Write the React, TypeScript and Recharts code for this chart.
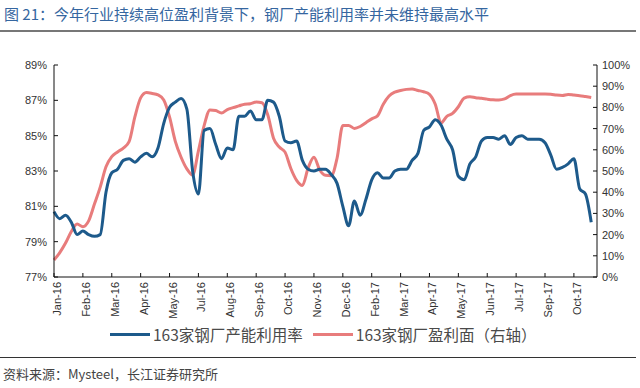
import { Line, LineChart, XAxis, YAxis } from 'recharts'

const BLUE = '#1d5a8b'
const RED = '#e87c7c'
const AXIS = '#111'
const LABEL = '#333'
const CJK = '"Noto Sans CJK SC", "Noto Sans", sans-serif'
const LATIN = '"Liberation Sans", Arial, sans-serif'

const TITLE = '图 21：今年行业持续高位盈利背景下，钢厂产能利用率并未维持最高水平'
const SOURCE = '资料来源：Mysteel，长江证券研究所'
const SERIES_NAMES = ['163家钢厂产能利用率', '163家钢厂盈利面（右轴）']

// 周度数据，每 5 周一个刻度标签
const TICK_LABELS = [
  'Jan-16', 'Feb-16', 'Mar-16', 'Apr-16', 'May-16', 'Jul-16', 'Aug-16', 'Sep-16', 'Oct-16', 'Nov-16',
  'Dec-16', 'Feb-17', 'Mar-17', 'Apr-17', 'May-17', 'Jun-17', 'Jul-17', 'Sep-17', 'Oct-17',
]

// 产能利用率 (%)，左轴
const UTIL = [
  80.7, 80.3, 80.5, 80.1, 79.4, 79.6, 79.4, 79.3, 79.4, 81.8,
  82.9, 83.1, 83.6, 83.7, 83.5, 83.8, 84.0, 83.8, 84.3, 85.7,
  86.6, 86.9, 87.1, 86.5, 83.0, 81.7, 85.3, 85.4, 84.5, 83.7,
  84.3, 84.2, 86.1, 86.1, 86.4, 85.9, 85.9, 87.0, 86.9, 86.1,
  84.7, 84.6, 84.7, 83.6, 83.1, 83.0, 83.1, 83.1, 82.8, 82.3,
  81.0, 79.9, 81.3, 80.5, 81.4, 82.5, 82.9, 82.6, 82.6, 83.0,
  83.1, 83.1, 83.6, 84.0, 85.3, 85.5, 85.9, 85.6, 84.8, 84.2,
  82.7, 82.5, 83.4, 83.8, 84.7, 84.9, 84.9, 84.8, 85.0, 84.5,
  84.9, 85.0, 84.8, 84.8, 84.8, 84.6, 83.9, 83.1, 83.2, 83.4,
  83.7, 82.0, 81.7, 80.1,
]

// 盈利面 (%)，右轴
const PROFIT = [
  8, 11.5, 16, 21.5, 25, 23.7, 26.5, 34.4, 42.4, 52,
  56.8, 59, 60.8, 63.8, 75.5, 84.5, 87, 86.6, 85.9, 83.5,
  75.5, 64, 56.5, 51, 48.1, 59.5, 71.5, 78.8, 78.5, 77.4,
  79, 79.9, 80.7, 81.5, 81.7, 82.5, 82.2, 76.5, 65.5, 61.3,
  58.9, 51.2, 45.6, 43.2, 51.5, 56.5, 50.5, 48, 47.8, 56,
  71.5, 71.5, 70.1, 71, 72.8, 74.6, 76, 81.5, 85.4, 87.2,
  88, 88.5, 88.7, 88, 87.4, 86.2, 81.5, 72.7, 75.8, 77.2,
  80.3, 84.4, 85, 84.6, 84.3, 83.9, 83.6, 83.5, 84, 85.6,
  86.3, 86.3, 86.3, 86.3, 86.3, 86.3, 86.2, 85.8, 85.6, 86.1,
  85.8, 85.5, 85.1, 84.7,
]

const LEFT_TICKS = [77, 79, 81, 83, 85, 87, 89]
const RIGHT_TICKS = [0, 10, 20, 30, 40, 50, 60, 70, 80, 90, 100]

const data = UTIL.map((u, i) => ({ idx: i, util: u, profit: PROFIT[i] }))
const X_TICKS = TICK_LABELS.map((_, i) => i * 5)

function XTick({ x, y, payload }: any) {
  const label = TICK_LABELS[Math.round(payload.value / 5)]
  const tx = x + 3
  const ty = y + 5
  return (
    <g>
      <line x1={x} x2={x} y1={y} y2={y - 4} stroke={AXIS} />
      <text
        x={tx}
        y={ty}
        transform={`rotate(-90 ${tx} ${ty})`}
        textAnchor="end"
        dominantBaseline="central"
        fontSize={11}
        fontFamily={LATIN}
        fill={LABEL}
      >
        {label}
      </text>
    </g>
  )
}

function LeftTick({ x, y, payload }: any) {
  return (
    <g>
      <line x1={x} x2={x + 4} y1={y} y2={y} stroke={AXIS} />
      <text x={x - 7} y={y} textAnchor="end" dominantBaseline="central" fontSize={11} fontFamily={LATIN} fill={LABEL}>
        {payload.value}%
      </text>
    </g>
  )
}

function RightTick({ x, y, payload }: any) {
  return (
    <g>
      <line x1={x} x2={x - 4} y1={y} y2={y} stroke={AXIS} />
      <text x={x + 5} y={y} textAnchor="start" dominantBaseline="central" fontSize={11} fontFamily={LATIN} fill={LABEL}>
        {payload.value}%
      </text>
    </g>
  )
}

export default function App() {
  return (
    <div
      style={{
        position: 'absolute',
        left: 0,
        top: 0,
        width: 640,
        height: 388,
        background: '#fff',
        overflow: 'hidden',
        fontFamily: CJK,
      }}
    >
      <div
        style={{
          position: 'absolute',
          left: 4,
          top: 4,
          fontSize: 15,
          lineHeight: '20px',
          color: '#3566a0',
          whiteSpace: 'nowrap',
        }}
      >
        {TITLE}
      </div>
      <div style={{ position: 'absolute', left: 0, top: 30, width: 636, height: 2, background: '#777' }} />

      <div style={{ position: 'absolute', left: 0, top: 0 }}>
        <LineChart width={640} height={388} data={data} margin={{ top: 65, right: 3, bottom: 66, left: 4 }}>
          <XAxis
            dataKey="idx"
            type="number"
            domain={[0, 94]}
            ticks={X_TICKS}
            interval={0}
            height={45}
            tickSize={0}
            tickMargin={0}
            tickLine={false}
            axisLine={{ stroke: AXIS }}
            tick={<XTick />}
          />
          <YAxis
            yAxisId="left"
            domain={[77, 89]}
            ticks={LEFT_TICKS}
            interval={0}
            width={50}
            tickSize={0}
            tickMargin={0}
            tickLine={false}
            axisLine={{ stroke: AXIS }}
            tick={<LeftTick />}
          />
          <YAxis
            yAxisId="right"
            orientation="right"
            domain={[0, 100]}
            ticks={RIGHT_TICKS}
            interval={0}
            width={40}
            tickSize={0}
            tickMargin={0}
            tickLine={false}
            axisLine={{ stroke: AXIS }}
            tick={<RightTick />}
          />
          <Line
            yAxisId="right"
            type="monotone"
            dataKey="profit"
            stroke={RED}
            strokeWidth={3}
            dot={false}
            isAnimationActive={false}
          />
          <Line
            yAxisId="left"
            type="monotone"
            dataKey="util"
            stroke={BLUE}
            strokeWidth={3}
            dot={false}
            isAnimationActive={false}
          />
        </LineChart>
      </div>

      <div
        style={{
          position: 'absolute',
          left: 110,
          top: 324,
          display: 'flex',
          alignItems: 'center',
          fontSize: 15.5,
          lineHeight: '20px',
          color: '#4a4a4a',
          whiteSpace: 'nowrap',
        }}
      >
        {SERIES_NAMES.map((name, i) => (
          <div key={name} style={{ display: 'flex', alignItems: 'center', marginRight: 10 }}>
            <div style={{ width: 40, height: 3, background: i === 0 ? BLUE : RED, marginRight: 3 }} />
            <span>{name}</span>
          </div>
        ))}
      </div>
      <div style={{ position: 'absolute', left: 0, top: 357, width: 636, height: 1, background: '#333' }} />

      <div
        style={{
          position: 'absolute',
          left: 3,
          top: 365,
          fontSize: 13,
          lineHeight: '18px',
          color: '#444',
          whiteSpace: 'nowrap',
        }}
      >
        {SOURCE}
      </div>
    </div>
  )
}
